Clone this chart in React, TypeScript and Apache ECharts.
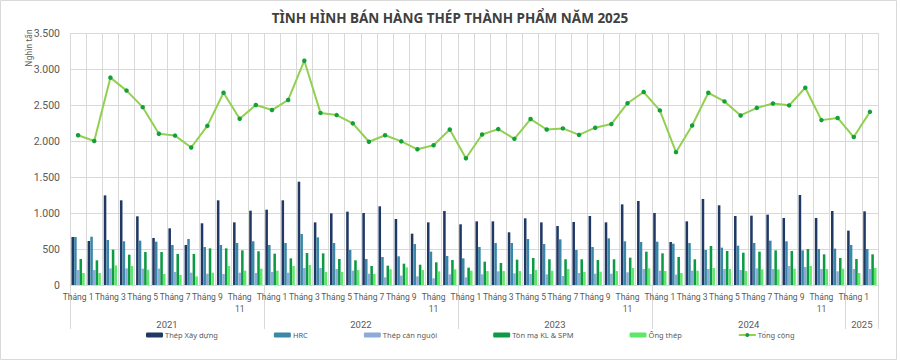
import React, { useEffect, useRef } from "react";
import * as echarts from "echarts";

const monthNames = ["Tháng 1","Tháng 2","Tháng 3","Tháng 4","Tháng 5","Tháng 6","Tháng 7","Tháng 8","Tháng 9","Tháng 10","Tháng 11","Tháng 12"];
const categories: string[] = [
  ...monthNames, ...monthNames, ...monthNames, ...monthNames, "Tháng 1", "Tháng 2",
];
const yearLabels: Record<number, string> = { 6: "2021", 18: "2022", 30: "2023", 42: "2024", 49: "2025" };
const yTicks = [0, 500, 1000, 1500, 2000, 2500, 3000, 3500];

const thepXayDung = [
  667, 611, 1245, 1176, 954, 653, 787, 556, 857, 1176, 870, 1032,
  1046, 1176, 1435, 870, 995, 1019, 1000, 1093, 917, 713, 870, 1028,
  843, 884, 884, 732, 926, 870, 819, 875, 958, 870, 1120, 1167,
  1000, 597, 884, 1195, 1107, 958, 963, 977, 931, 1250, 931, 1028,
  755, 1023,
];
const hrc = [
  667, 671, 625, 607, 616, 602, 556, 639, 528, 556, 583, 607,
  556, 583, 708, 662, 583, 486, 361, 389, 398, 569, 463, 403,
  370, 528, 583, 583, 639, 569, 634, 486, 528, 648, 607, 597,
  602, 574, 583, 486, 519, 546, 583, 616, 607, 481, 500, 505,
  556, 500,
];
const thepCanNguoi = [
  208, 208, 231, 231, 227, 227, 181, 171, 157, 153, 171, 167,
  181, 171, 236, 236, 222, 199, 157, 106, 130, 120, 93, 148,
  106, 148, 190, 162, 153, 148, 125, 167, 157, 157, 176, 222,
  199, 144, 199, 222, 222, 208, 231, 222, 264, 250, 222, 190,
  222, 222,
];
const tonMa = [
  361, 343, 491, 421, 458, 458, 431, 431, 509, 509, 481, 468,
  435, 370, 444, 440, 361, 343, 264, 269, 296, 282, 315, 347,
  241, 324, 306, 352, 375, 357, 357, 357, 347, 357, 380, 463,
  440, 389, 357, 542, 472, 449, 463, 481, 472, 500, 426, 375,
  361, 426,
];
const ongThep = [
  167, 167, 273, 264, 213, 153, 139, 120, 171, 264, 199, 227,
  199, 264, 278, 181, 181, 208, 153, 218, 245, 208, 190, 218,
  199, 194, 194, 194, 208, 199, 222, 181, 185, 194, 236, 231,
  194, 167, 199, 236, 222, 194, 218, 218, 227, 264, 222, 227,
  167, 236,
];
const tongCong = [
  2080, 2000, 2880, 2700, 2470, 2100, 2075, 1910, 2210, 2670, 2310, 2500,
  2430, 2570, 3115, 2390, 2360, 2245, 1990, 2080, 1995, 1885, 1940, 2160,
  1760, 2090, 2165, 2030, 2305, 2160, 2175, 2085, 2185, 2235, 2525, 2680,
  2425, 1845, 2215, 2670, 2550, 2355, 2460, 2520, 2495, 2740, 2290, 2320,
  2055, 2405,
];

const FONT = "'Noto Sans', 'DejaVu Sans', sans-serif";
const NARROW = "Roboto, 'Noto Sans', sans-serif";
const GRID = "#d9d9d9";
const TXT = "#595959";

export default function App() {
  const ref = useRef<HTMLDivElement>(null);
  useEffect(() => {
    if (!ref.current) return;
    const chart = echarts.init(ref.current, null, { renderer: "svg" });
    const bar = (name: string, data: number[], color: string) => ({
      name,
      type: "bar",
      data,
      xAxisIndex: 0,
      yAxisIndex: 0,
      barCategoryGap: "18%",
      barGap: "5%",
      itemStyle: { color },
    });
    chart.setOption({
      animation: false,
      textStyle: { fontFamily: FONT },
      title: {
        text: "TÌNH HÌNH BÁN HÀNG THÉP THÀNH PHẨM NĂM 2025",
        left: "center",
        top: 6,
        textStyle: { fontSize: 13.5, fontWeight: "bold", color: "#404040", fontFamily: FONT },
      },
      grid: { left: 70, right: 22, top: 33, bottom: 77 },
      legend: {
        bottom: 18,
        left: 141,
        itemWidth: 17,
        itemHeight: 5,
        itemGap: 56,
        textStyle: { fontSize: 7.5, color: TXT, fontFamily: FONT, padding: [0, 0, 0, -3] },
        data: ["Thép Xây dựng", "HRC", "Thép cán nguội", "Tôn mạ KL & SPM", "Ống thép", "Tổng cộng"],
      },
      graphic: [
        {
          type: "rect",
          shape: { x: 0.5, y: 0.5, width: 896, height: 359 },
          style: { fill: "none", stroke: GRID, lineWidth: 1 },
          z: -1,
          silent: true,
        },
        {
          type: "text",
          x: 28,
          y: 48,
          rotation: Math.PI / 2,
          style: {
            text: "Nghìn tấn",
            fontSize: 8,
            fill: TXT,
            fontFamily: FONT,
            align: "center",
            verticalAlign: "middle",
          },
        },
      ],
      xAxis: [
        {
          type: "category",
          data: categories,
          boundaryGap: true,
          axisLine: { show: true, lineStyle: { color: GRID } },
          axisTick: {
            show: true,
            interval: (i: number) => i % 12 === 0,
            length: 44,
            lineStyle: { color: GRID },
          },
          splitLine: { show: true, interval: 0, lineStyle: { color: GRID } },
          axisLabel: {
            interval: (i: number) => i % 2 === 0,
            color: TXT,
            fontSize: 8.5,
            margin: 6,
            lineHeight: 12,
            fontFamily: NARROW,
            showMinLabel: true,
            hideOverlap: false,
            formatter: (v: string) => (v === "Tháng 11" ? "Tháng\n11" : v),
          },
        },
        {
          type: "value",
          min: 0,
          max: 50,
          interval: 1,
          position: "bottom",
          axisLine: { show: false },
          axisTick: { show: false },
          splitLine: { show: false },
          axisLabel: {
            color: TXT,
            fontSize: 9.5,
            margin: 34,
            fontFamily: NARROW,
            showMinLabel: true,
            showMaxLabel: true,
            formatter: (v: number) => yearLabels[v] ?? "",
          },
        },
      ],
      yAxis: {
        type: "value",
        min: yTicks[0],
        max: yTicks[yTicks.length - 1],
        interval: 500,
        axisLine: { show: false },
        axisTick: { show: false },
        splitLine: { lineStyle: { color: GRID } },
        axisLabel: {
          color: TXT,
          fontSize: 10.5,
          margin: 10,
          fontFamily: NARROW,
          formatter: (v: number) => v.toLocaleString("de-DE"),
        },
      },
      series: [
        bar("Thép Xây dựng", thepXayDung, "#1f3864"),
        bar("HRC", hrc, "#3a87a8"),
        bar("Thép cán nguội", thepCanNguoi, "#8eaad6"),
        bar("Tôn mạ KL & SPM", tonMa, "#0c9a44"),
        bar("Ống thép", ongThep, "#5ee86a"),
        {
          name: "Tổng cộng",
          type: "line",
          data: tongCong,
          xAxisIndex: 0,
          yAxisIndex: 0,
          symbol: "circle",
          symbolSize: 4.5,
          lineStyle: { color: "#92d050", width: 2 },
          itemStyle: { color: "#13a03a" },
          z: 5,
        },
      ],
    });
    return () => chart.dispose();
  }, []);
  return (
    <div
      ref={ref}
      style={{ position: "fixed", left: 0, top: 0, width: 900, height: 362, background: "#fff" }}
    />
  );
}
